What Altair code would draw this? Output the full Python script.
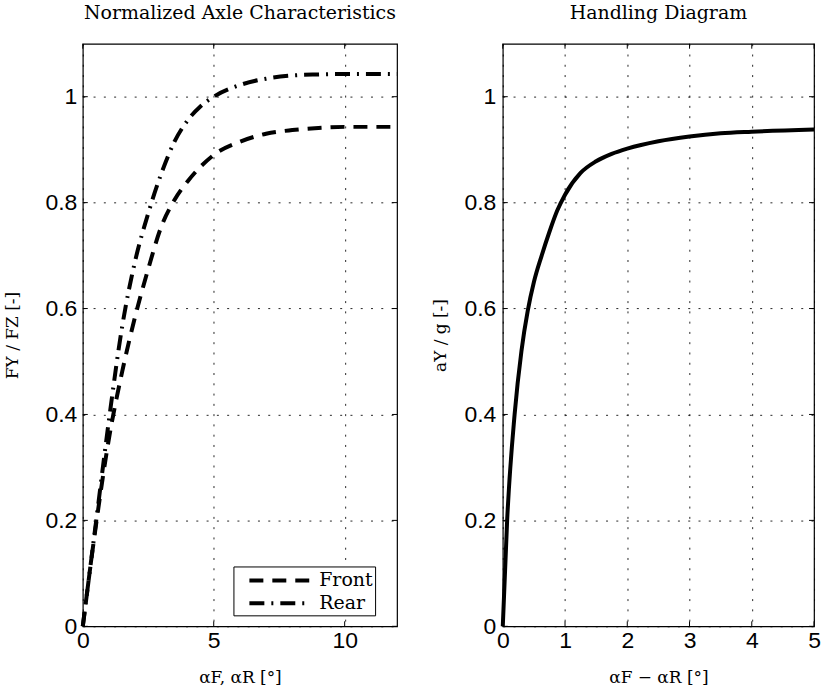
import altair as alt
import pandas as pd

# ---- data ----
slip = [0, 0.5, 1, 1.5, 2, 2.5, 3, 3.5, 4, 4.5, 5, 6, 7, 8, 9, 10, 11, 12]
front = [0, 0.19, 0.355, 0.48, 0.585, 0.675, 0.755, 0.805, 0.84, 0.868, 0.89, 0.915, 0.93, 0.937, 0.941, 0.943, 0.943, 0.943]
rear = [0, 0.195, 0.39, 0.565, 0.69, 0.78, 0.855, 0.915, 0.955, 0.982, 1.0, 1.022, 1.034, 1.04, 1.042, 1.043, 1.043, 1.043]

hd_x = [0, 0.07, 0.19, 0.3, 0.4, 0.5, 0.625, 0.75, 0.875, 1, 1.25, 1.5, 1.75, 2, 2.5, 3, 3.5, 4, 5]
hd_y = [0, 0.2, 0.4, 0.52, 0.595, 0.65, 0.70, 0.745, 0.785, 0.815, 0.856, 0.878, 0.892, 0.902, 0.916, 0.925, 0.931, 0.934, 0.938]

y_ticks = [0, 0.2, 0.4, 0.6, 0.8, 1]
x_ticks_left = [0, 5, 10]
x_ticks_right = [0, 1, 2, 3, 4, 5]
series = ["Front", "Rear"]

axle = pd.DataFrame(
    {"alpha": slip * 2, "fy": front + rear, "axle": ["Front"] * len(slip) + ["Rear"] * len(slip)}
)
hd = pd.DataFrame({"dalpha": hd_x, "ay": hd_y})

SERIF = "DejaVu Serif"
SANS = "Liberation Sans"
W_L, W_R, H = 315, 312, 584
TICK = 5

axis_common = dict(
    grid=True, gridDash=[2, 8.3], gridColor="black", gridWidth=1, gridOpacity=0.85,
    ticks=False, domain=False, labelFlush=False,
    labelFont=SANS, labelFontSize=23, labelColor="black",
    titleFont=SERIF, titleFontSize=17, titleFontWeight="normal", titleColor="black",
)

xl_axis = alt.Axis(values=x_ticks_left, format="~r", title="αF, αR [°]",
                   labelPadding=3, titlePadding=17, **axis_common)
yl_axis = alt.Axis(values=y_ticks, format="~r", title="FY / FZ [-]",
                   labelPadding=6, titlePadding=23, **axis_common)
xr_axis = alt.Axis(values=x_ticks_right, format="~r", title="αF − αR [°]",
                   labelPadding=3, titlePadding=17, **axis_common)
yr_axis = alt.Axis(values=y_ticks, format="~r", title="aY / g [-]",
                   labelPadding=7, titlePadding=14, **axis_common)

xl_scale = alt.Scale(domain=[0, 12], nice=False)
xr_scale = alt.Scale(domain=[0, 5], nice=False)
y_scale = alt.Scale(domain=[0, 1.1], nice=False)


def inner_ticks(xvals, yvals, xfield, yfield, width, xaxis, yaxis, xscale):
    """MATLAB-style ticks drawn inside the frame on all four sides."""
    xs = pd.DataFrame({xfield: xvals})
    ys = pd.DataFrame({yfield: yvals})
    rule = dict(color="black", strokeWidth=1)
    yenc = alt.Y(f"{yfield}:Q", scale=y_scale, axis=yaxis)
    xenc = alt.X(f"{xfield}:Q", scale=xscale, axis=xaxis)
    left = alt.Chart(ys).mark_rule(**rule).encode(
        y=yenc, x=alt.value(0), x2=alt.value(TICK))
    right = alt.Chart(ys).mark_rule(**rule).encode(
        y=yenc, x=alt.value(width - TICK), x2=alt.value(width))
    bottom = alt.Chart(xs).mark_rule(**rule).encode(
        x=xenc, y=alt.value(H - TICK), y2=alt.value(H))
    top = alt.Chart(xs).mark_rule(**rule).encode(
        x=xenc, y=alt.value(0), y2=alt.value(TICK))
    return [left, right, bottom, top]


NB = "\u00a0"

left_lines = alt.Chart(axle).mark_line(color="black", strokeWidth=4, interpolate="monotone").encode(
    x=alt.X("alpha:Q", scale=xl_scale, axis=xl_axis),
    y=alt.Y("fy:Q", scale=y_scale, axis=yl_axis),
    strokeDash=alt.StrokeDash(
        "axle:N",
        scale=alt.Scale(domain=series, range=[[14, 9], [15, 7, 2, 7]]),
        legend=alt.Legend(
            title=None, orient="none", legendX=151, legendY=524,
            symbolType="M-3,0H3", symbolSize=400, symbolStrokeWidth=4,
            symbolStrokeColor="black", symbolOffset=32,
            labelFont=SERIF, labelFontSize=19, labelColor="black", labelOffset=28,
            labelExpr=f"datum.label + '{NB * 2}'",
            strokeColor="black", fillColor="white", padding=2, rowPadding=1,
            direction="vertical",
        ),
    ),
)

left = alt.layer(
    left_lines, *inner_ticks(x_ticks_left, y_ticks, "alpha", "fy", W_L, xl_axis, yl_axis, xl_scale)
).properties(
    width=W_L, height=H,
    title=alt.TitleParams("Normalized Axle Characteristics", font=SERIF, fontSize=19,
                          fontWeight="normal", color="black", offset=20),
)

right_line = alt.Chart(hd).mark_line(color="black", strokeWidth=4, interpolate="monotone").encode(
    x=alt.X("dalpha:Q", scale=xr_scale, axis=xr_axis),
    y=alt.Y("ay:Q", scale=y_scale, axis=yr_axis),
)

right = alt.layer(
    right_line, *inner_ticks(x_ticks_right, y_ticks, "dalpha", "ay", W_R, xr_axis, yr_axis, xr_scale)
).properties(
    width=W_R, height=H,
    title=alt.TitleParams("Handling Diagram", font=SERIF, fontSize=19,
                          fontWeight="normal", color="black", offset=20),
)

chart = alt.hconcat(left, right, spacing=25).properties(
    padding={"left": 3, "top": 2, "right": 0, "bottom": 0},
    background="white",
).configure_view(stroke="black", strokeWidth=1.2)

chart.save("out.html", embed_options={"renderer": "svg", "actions": False})
